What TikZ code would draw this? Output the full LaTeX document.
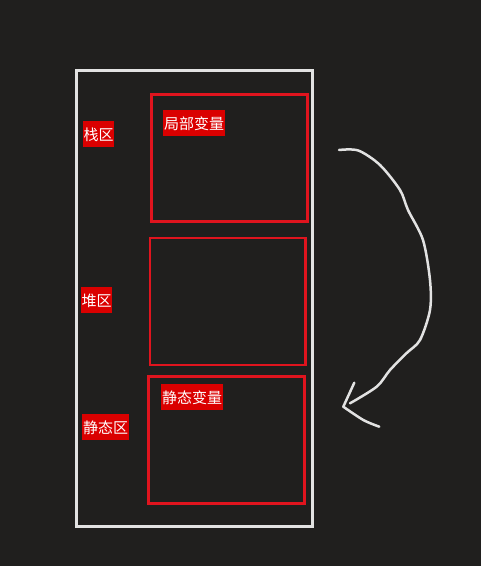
\documentclass[tikz,border=0pt]{standalone}
\usepackage{fontspec}
\newfontfamily\cjk{Noto Sans CJK SC}
\definecolor{bg}{HTML}{201F1E}
\definecolor{frameW}{HTML}{E2E2E2}
\definecolor{boxR}{HTML}{E0141E}
\definecolor{labR}{HTML}{DA0000}
\tikzset{
  lab/.style={fill=labR, text=white, font=\cjk\fontsize{15}{15}\selectfont, inner xsep=0pt, inner ysep=0pt, anchor=north west, minimum height=25.7pt, text depth=0pt},
  redbox/.style={draw=boxR, line width=2.5pt},
  whitebox/.style={draw=frameW, line width=2.5pt},
  hand/.style={draw=frameW, line width=2.5pt, line cap=round, line join=round}
}
\begin{document}
\begin{tikzpicture}[x=1pt,y=-1pt]
\useasboundingbox[fill=bg] (0,0) rectangle (481,566);
\draw[whitebox] (76.7,70.7) rectangle (312.3,526.7);
\draw[redbox] (151.3,94.3) rectangle (307.3,221.7);
\draw[redbox] (150,238) rectangle (305.7,365);
\draw[redbox] (148.3,376.3) rectangle (304.3,503.7);
\node[lab, minimum width=30.7pt] (stack) at (83,121) {栈区};
\node[lab, minimum width=62pt] (local) at (163,110) {局部变量};
\node[lab, minimum width=30.7pt] (heap) at (81,287) {堆区};
\node[lab, minimum width=47pt] (static) at (82,414) {静态区};
\node[lab, minimum width=62pt] (staticvar) at (161,384) {静态变量};
\draw[hand] plot[smooth, tension=0.5] coordinates {(339,150) (358.3,150.5) (380,165) (400,190) (408,210) (423,240) (430,280) (430,310) (420,340) (406.7,353) (390,370) (376.7,386.7) (350,403.3)};
\coordinate (tip) at (343.3,406.7);
\draw[hand] (354.3,382.7) -- (tip);
\draw[hand] plot[smooth, tension=0.5] coordinates {(tip) (363.3,420) (379.3,426.7)};
\end{tikzpicture}
\end{document}
